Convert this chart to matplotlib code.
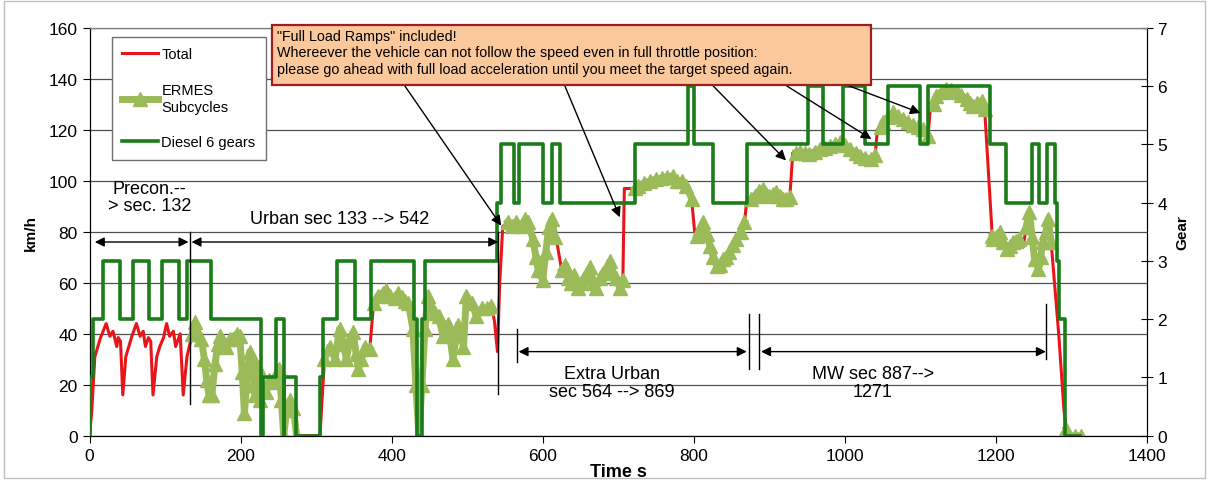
import numpy as np
import matplotlib
matplotlib.use('Agg')
from matplotlib import pyplot as plt
from matplotlib.patches import Rectangle

plt.rcParams['font.family'] = ['Liberation Sans', 'DejaVu Sans']

# vehicle speed over time (Total), km/h
speed_t = [0, 3, 7, 14, 22, 27, 31, 36, 38, 41, 44, 48, 51, 56, 62, 67, 71, 74, 78, 81, 84,
           89, 93, 98, 102, 106, 111, 114, 120, 124, 129, 132,
           136, 140, 144, 148, 152, 155, 158, 162, 166, 170, 173, 177, 181, 186, 190, 195, 199,
           202, 205, 208, 212, 216, 219, 223, 226, 230, 234, 238, 243, 247, 251, 254, 257, 261,
           265, 270, 274, 305, 311, 318, 325, 331, 336, 340, 345, 349, 353, 356, 360, 365, 371,
           376, 382, 388, 393, 398, 404, 409, 413, 418, 422, 428, 432, 436, 440, 444, 448, 453,
           457, 462, 468, 475, 481, 488, 495, 499, 506, 512, 519, 526, 532, 536, 540, 543, 547,
           554, 559, 565, 572, 577, 581, 587, 591, 594, 600, 604, 608, 612, 616, 618, 625, 630,
           634, 638, 642, 646, 650, 655, 659, 663, 667, 671, 676, 680, 685, 689, 693, 697, 702,
           706, 708, 722, 726, 734, 742, 750, 758, 765, 772, 778, 784, 790, 797, 801, 804, 808,
           812, 817, 821, 826, 830, 834, 839, 843, 847, 852, 856, 862, 867, 870, 876, 881, 886,
           892, 896, 900, 905, 909, 914, 918, 922, 927, 931, 935, 940, 947, 953, 960, 967, 973,
           980, 987, 994, 1000, 1007, 1014, 1020, 1027, 1034, 1040, 1043, 1048, 1050, 1057,
           1064, 1070, 1077, 1083, 1090, 1097, 1103, 1110, 1113, 1118, 1121, 1128, 1134, 1141,
           1148, 1154, 1161, 1166, 1170, 1175, 1181, 1185, 1195, 1196, 1201, 1205, 1209, 1214,
           1218, 1223, 1227, 1231, 1236, 1240, 1244, 1248, 1251, 1256, 1259, 1262, 1266, 1269,
           1273, 1283, 1290, 1293, 1297, 1305, 1312]
speed_v = [0, 10, 31, 38, 44, 39, 41, 35, 38.5, 37, 16, 31, 34, 39, 44, 39, 41, 35, 38.5, 37, 16,
           31, 35, 38.5, 44, 39, 41, 35, 40, 16, 31, 35,
           40, 44.5, 40, 38, 30, 22, 16, 16, 28, 36, 39, 37, 35, 38, 38, 40, 39,
           25, 9, 20, 33, 30, 16, 27, 14, 18, 17, 22, 21, 24, 26, 14, 0, 10,
           14, 11, 0, 0, 30, 35, 30, 42, 36, 30, 38, 40.6, 32, 26, 30, 35, 34,
           52, 55, 56, 57, 55, 54, 56, 54.5, 53, 52, 42, 20, 0, 20, 42, 55, 50,
           48, 47, 39, 44, 30, 43.6, 35, 55, 52, 47, 50, 50, 51, 45, 33, 60, 82,
           84, 82.4, 84, 82.4, 85, 83.7, 77, 70, 65, 61, 72, 82, 85, 78, 77, 65, 67,
           62, 60, 63, 58, 60, 62, 64, 66, 60, 58, 62, 64, 66, 68.5, 64, 62, 58,
           61, 97, 97, 98, 99, 100, 100.7, 101, 101.5, 102, 100, 100, 98, 93, 80, 78.5, 81,
           83.7, 79, 74.6, 70, 66.7, 67, 69.3, 70, 72, 75, 77.2, 80, 83.7, 92, 93, 94.2, 96,
           96.8, 95, 94.2, 95, 95.5, 94, 92.9, 93, 93.5, 111, 111, 111.2, 111, 110.6, 111.5, 112.5, 113,
           113.8, 114.5, 115.1, 114, 112.5, 111, 109.9, 109, 108.6, 110, 120, 121, 123, 125,
           126.9, 125.5, 124.3, 123, 121.7, 121, 120.4, 117.7, 128, 130, 133.4, 135, 136, 135.5,
           134.8, 133.5, 132.1, 130.5, 129.5, 130.5, 131.5, 128, 78.5, 77.2, 78.5, 79.8, 76, 73.3,
           74.5, 75.9, 76.5, 77.2, 74, 82, 87.7, 78, 69.3, 65.4, 70, 75.9, 80, 85,
           75.9, 40, 10, 2.6, 0, 0, 0]

# ERMES subcycle time spans, s
ermes_spans = [(133, 274), (311, 371), (376, 532), (554, 616), (625, 706), (722, 797),
               (804, 867), (876, 927), (935, 1040), (1048, 1110), (1118, 1185),
               (1195, 1233), (1240, 1273), (1293, 1312)]

# gear of the diesel 6 gear vehicle (value holds from that second on)
gear_t = [0, 1, 4, 18, 40, 57, 79, 96, 119, 129, 161, 227, 229, 247, 257, 258, 273, 305, 309,
          327, 351, 373, 430, 434, 440, 444, 539, 545, 562, 568, 600, 612, 623, 722, 792, 800,
          826, 870, 951, 971, 997, 1026, 1057, 1100, 1110, 1192, 1213, 1247, 1257, 1268, 1278,
          1281, 1284, 1291, 1311]
gear_n = [0, 1, 2, 3, 2, 3, 2, 3, 2, 3, 2, 0, 1, 2, 0, 1, 0, 1, 2,
          3, 2, 3, 2, 0, 2, 3, 4, 5, 4, 5, 4, 5, 4, 5, 6, 5,
          4, 5, 6, 5, 6, 5, 6, 5, 6, 5, 4, 5, 4, 5, 4,
          3, 2, 0, 0]

# section markers: (start s, end s, km/h) of the double arrows
section_arrows = [(7, 131, 76), (135, 541, 76), (568, 870, 33), (889, 1266, 33)]
# vertical section bars: (s, km/h low, km/h high)
section_bars = [(133, 12.4, 79.8), (541, 16.4, 79.8), (566.5, 28.9, 41.9),
                (873, 26.2, 47.8), (886, 26.2, 47.8), (1266.5, 30.1, 51.7)]
section_labels = [("Precon.--\n> sec. 132", 79, 93.7), ("Urban sec 133 --> 542", 331, 85.4),
                  ("Extra Urban\nsec 564 --> 869", 691, 21), ("MW sec 887-->\n1271", 1037, 21)]

# callout box and its arrows: (from s, from km/h, to s, to km/h)
note_text = ('"Full Load Ramps" included!\n'
             'Whereever the vehicle can not follow the speed even in full throttle position:\n'
             'please go ahead with full load acceleration until you meet the target speed again.')
note_arrows = [(417, 137.4, 545, 82.4), (629, 137.4, 702, 85.7), (825, 137.4, 922, 108),
               (922, 137.4, 1035, 116.4), (1004, 137.4, 1100, 126.6)]

t = np.array(speed_t, dtype=float)
v = np.array(speed_v, dtype=float)

fig = plt.figure(figsize=(12.1, 4.81), dpi=100)
ax = fig.add_axes([0.074, 0.092, 0.874, 0.848])
ax2 = ax.twinx()

red_line, = ax.plot(t, v, color='#e8161b', lw=2.2, label='Total', zorder=3)
# each ERMES subcycle drawn on its own so the red ramps between them stay visible
for i, (lo, hi) in enumerate(ermes_spans):
    sel = (t >= lo) & (t <= hi)
    ln, = ax.plot(t[sel], v[sel], color='#9bbb59', lw=5, marker='^', markersize=10.5,
                  markeredgecolor='#9bbb59', zorder=4)
    if i == 0:
        ermes_line = ln
ermes_line.set_label('ERMES\nSubcycles')
gear_line, = ax2.step(gear_t, gear_n, where='post', color='#1a7d1a', lw=2.6,
                      label='Diesel 6 gears', zorder=3)

ax.set_xlim(0, 1400)
ax.set_ylim(0, 160)
ax2.set_ylim(0, 7)
ax.set_xticks(range(0, 1401, 200))
ax.set_yticks(range(0, 161, 20))
ax2.set_yticks(range(0, 8))
ax.grid(axis='y', color='#505050', lw=0.9)
ax.set_axisbelow(True)
ax.tick_params(labelsize=12.5, direction='out', length=5)
ax2.tick_params(labelsize=12.5, direction='inout', length=8)
ax.set_xlabel('Time s', fontsize=13, fontweight='bold', labelpad=0)
ax.set_ylabel('km/h', fontsize=11, fontweight='bold', labelpad=8)
ax2.set_ylabel('Gear', fontsize=11, fontweight='bold', labelpad=6)
for sp in ax2.spines.values():
    sp.set_color('black')
ax2.spines['top'].set_color('#808080')

# section arrows, bars and labels
for t0, t1, y in section_arrows:
    ax2.annotate('', xy=(t1, y), xytext=(t0, y), xycoords=ax.transData, textcoords=ax.transData,
                 arrowprops=dict(arrowstyle='<|-|>', color='black', lw=1, mutation_scale=14,
                                 shrinkA=0, shrinkB=0), zorder=6)
for x, y0, y1 in section_bars:
    ax2.plot([x, x], [y0, y1], color='black', lw=1, transform=ax.transData, zorder=6)
for txt, x, y in section_labels:
    ax2.text(x, y, txt, ha='center', va='center', fontsize=13, transform=ax.transData,
             linespacing=1.05, zorder=6)

# callout box
ax2.add_patch(Rectangle((242, 137.4), 792, 23.8, transform=ax.transData, clip_on=False,
                        facecolor='#fbc89c', edgecolor='#9e1e1e', lw=1.6, zorder=10))
ax2.text(248, 159.6, note_text, ha='left', va='top', fontsize=10.3, linespacing=1.22,
         transform=ax.transData, zorder=11)
for x0, y0, x1, y1 in note_arrows:
    ax2.annotate('', xy=(x1, y1), xytext=(x0, y0), xycoords=ax.transData, textcoords=ax.transData,
                 arrowprops=dict(arrowstyle='-|>', color='black', lw=1, mutation_scale=15,
                                 shrinkA=0, shrinkB=0), zorder=9)

leg = ax2.legend(handles=[red_line, ermes_line, gear_line], loc='upper left',
                 bbox_to_anchor=(0.021, 0.977), borderaxespad=0, fontsize=10.5,
                 labelspacing=1.5, handlelength=2.5, handletextpad=0.2, borderpad=0.7,
                 fancybox=False, framealpha=1, edgecolor='#707070')
leg.set_zorder(12)
leg.get_frame().set_linewidth(1)

fig.add_artist(Rectangle((0.003, 0.004), 0.993, 0.992, transform=fig.transFigure, fill=False,
                         edgecolor='#c0c0c0', lw=1))

fig.savefig('out.png', dpi=100)
